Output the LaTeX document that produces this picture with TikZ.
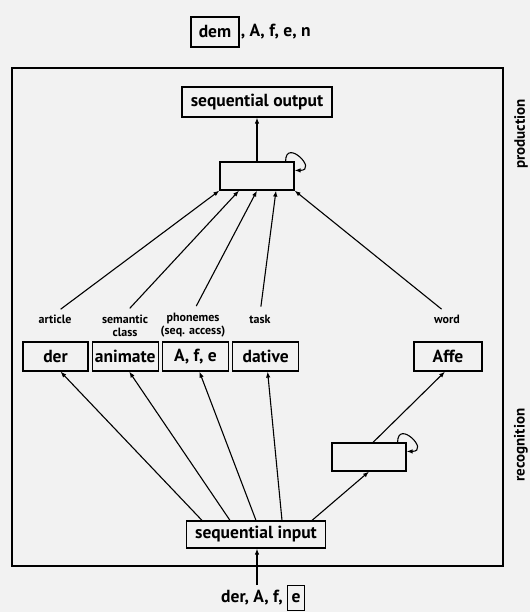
\documentclass[tikz,border=0pt]{standalone}
\usepackage{fontspec}
\setmainfont{PT Sans}
\usetikzlibrary{arrows.meta, positioning}

\begin{document}
\begin{tikzpicture}[x=1pt, y=-1pt, >={Latex[length=6pt,width=4.5pt]},
    unit/.style={rectangle, draw=black, line width=1.2pt, fill=black!5, font=\bfseries\fontsize{17.5}{19}\selectfont, inner sep=2pt, minimum height=29pt},
    slot/.style={unit, minimum width=66pt},
    hidden/.style={rectangle, draw=black, line width=1.2pt, fill=black!5, minimum width=74pt, minimum height=28pt},
    tag/.style={font=\bfseries\fontsize{12}{13}\selectfont, align=center, inner sep=1pt},
    side/.style={font=\bfseries\fontsize{15}{17}\selectfont, rotate=90, anchor=south, inner sep=1pt},
    link/.style={->, line width=1.1pt},
    loopback/.style={->, line width=1.1pt}]

    \fill[black!5] (0,0) rectangle (530,612);
    \useasboundingbox (0,0) rectangle (530,612);

    % output side
    \node[unit, minimum width=48pt, minimum height=30pt] (dem) at (215,32) {dem};
    \node[anchor=west, font=\bfseries\fontsize{17.5}{19}\selectfont, inner sep=1pt] (demrest) at (dem.east) {, A, f, e, n};

    \draw[line width=1.4pt] (12,68) rectangle (503,566);

    \node[unit, minimum width=150pt, minimum height=30pt] (seqout) at (257,102) {sequential output};
    \node[hidden] (hidprod) at (257,176) {};

    % labels and slots
    \node[tag] (article) at (55,319) {article};
    \node[tag] (semclass) at (125,325.5) {semantic\\class};
    \node[tag] (phonemes) at (193,325.5) {phonemes\\(seq. access)};
    \node[tag] (task) at (260,319) {task};
    \node[tag] (word) at (447,319) {word};

    \node[slot, minimum width=65pt] (der) at (55.5,356.5) {der};
    \node[slot, right=3pt of der] (animate) {animate};
    \node[slot, right=3pt of animate] (afe) {A, f, e};
    \node[slot, right=3pt of afe] (dative) {dative};
    \node[slot, minimum width=68pt] (affe) at (448,356.5) {Affe};

    % input side
    \node[hidden] (hidrec) at (369,457) {};
    \node[unit, minimum width=139pt, minimum height=27pt] (seqin) at (256,534.5) {sequential input};

    \node[font=\bfseries\fontsize{17.5}{19}\selectfont, inner sep=1pt] (inp) at (252,598) {der, A, f,};
    \node[unit, minimum width=17pt, minimum height=25pt, inner sep=1pt, right=3pt of inp] (inpe) {e};
    \coordinate (feed) at (257,585);

    \node[side] (prodside) at (529,134) {production};
    \node[side] (recside) at (529,445) {recognition};

    % connectors
    \draw[link] (hidprod) -- (seqout);
    \draw[loopback] ([xshift=-9pt]hidprod.north east) .. controls +(0,-24) and +(24,0) .. ([yshift=-9pt]hidprod.north east);
    \draw[link, shorten <=7pt] (article.north) -- (hidprod.south west);
    \draw[link, shorten <=7pt] (semclass.north) -- ([xshift=-18pt]hidprod.south);
    \draw[link, shorten <=7pt] (phonemes.north) -- (hidprod.south);
    \draw[link, shorten <=7pt] (task.north) -- ([xshift=19pt]hidprod.south);
    \draw[link, shorten <=7pt] (word.north) -- (hidprod.south east);

    \draw[link] (feed) -- (seqin.south -| feed);
    \draw[link] ([xshift=-54pt]seqin.north) -- ([xshift=5pt]der.south);
    \draw[link] ([xshift=-26pt]seqin.north) -- ([xshift=4pt]animate.south);
    \draw[link] (seqin.north) -- ([xshift=4pt]afe.south);
    \draw[link] ([xshift=26pt]seqin.north) -- ([xshift=2pt]dative.south);
    \draw[link] ([xshift=56pt]seqin.north) -- (hidrec.south);
    \draw[link] ([xshift=4pt]hidrec.north) -- ([xshift=-3pt]affe.south);
    \draw[loopback] ([xshift=-9pt]hidrec.north east) .. controls +(0,-24) and +(24,0) .. ([yshift=-9pt]hidrec.north east);
\end{tikzpicture}
\end{document}
